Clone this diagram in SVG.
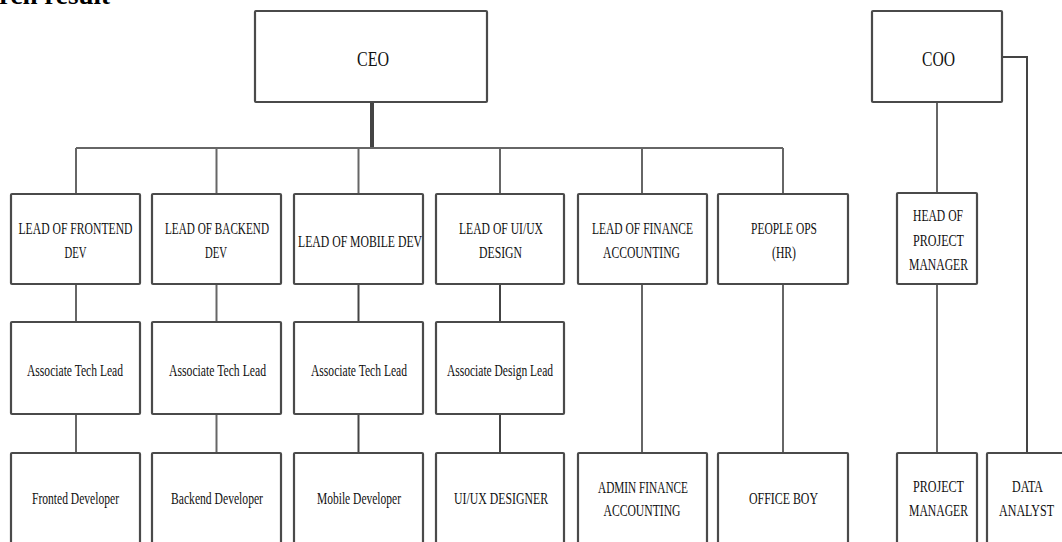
<svg xmlns="http://www.w3.org/2000/svg" width="1062" height="542" viewBox="0 0 1062 542">
<style>
.box{fill:#fff;stroke:#4a4a4a;stroke-width:2.2}
.t{font-family:"Liberation Serif","Times New Roman",serif;font-size:17px;fill:#111;text-anchor:middle}
.big{font-size:20px}
.ln{fill:none;stroke:#666;stroke-width:2}
.dk{fill:none;stroke:#444;stroke-width:2}
.hd{font-family:"Liberation Serif","Times New Roman",serif;font-weight:bold;font-size:26px;fill:#000}
</style>
<rect width="1062" height="542" fill="#fff"/>
<text class="hd" x="-1" y="3.5" textLength="111" lengthAdjust="spacingAndGlyphs">rch result</text>
<g id="connectors">
<line class="dk" x1="372" y1="102" x2="372" y2="148" style="stroke-width:4"/>
<line class="ln" x1="76" y1="148" x2="783" y2="148"/>
<line class="ln" x1="76" y1="148" x2="76" y2="194"/>
<line class="ln" x1="216.5" y1="148" x2="216.5" y2="194"/>
<line class="ln" x1="358.5" y1="148" x2="358.5" y2="194"/>
<line class="ln" x1="500" y1="148" x2="500" y2="194"/>
<line class="ln" x1="642" y1="148" x2="642" y2="194"/>
<line class="ln" x1="783" y1="148" x2="783" y2="194"/>
<line class="ln" x1="76" y1="284" x2="76" y2="322"/>
<line class="ln" x1="216.5" y1="284" x2="216.5" y2="322"/>
<line class="dk" x1="358.5" y1="284" x2="358.5" y2="322"/>
<line class="dk" x1="500" y1="284" x2="500" y2="322"/>
<line class="ln" x1="76" y1="414" x2="76" y2="453"/>
<line class="ln" x1="216.5" y1="414" x2="216.5" y2="453"/>
<line class="dk" x1="358.5" y1="414" x2="358.5" y2="453"/>
<line class="dk" x1="500" y1="414" x2="500" y2="453"/>
<line class="ln" x1="642" y1="284" x2="642" y2="453"/>
<line class="ln" x1="783" y1="284" x2="783" y2="453"/>
<line class="ln" x1="937" y1="102" x2="937" y2="193"/>
<line class="ln" x1="937" y1="284" x2="937" y2="453"/>
<polyline class="dk" points="1002,57 1027,57 1027,453"/>
</g>
<g id="ceo"><rect class="box" x="255" y="11" width="232" height="91" rx="1"/><text class="t big" x="373" y="66" textLength="32" lengthAdjust="spacingAndGlyphs">CEO</text></g>
<g id="coo"><rect class="box" x="872" y="11" width="130" height="91" rx="1"/><text class="t big" x="938.5" y="66" textLength="33" lengthAdjust="spacingAndGlyphs">COO</text></g>
<g id="lead-frontend"><rect class="box" x="11" y="194" width="129" height="90" rx="1"/><text class="t" x="75.5" y="234" textLength="114" lengthAdjust="spacingAndGlyphs">LEAD OF FRONTEND</text><text class="t" x="75.5" y="258" textLength="22" lengthAdjust="spacingAndGlyphs">DEV</text></g>
<g id="lead-backend"><rect class="box" x="152" y="194" width="129" height="90" rx="1"/><text class="t" x="217" y="234" textLength="104" lengthAdjust="spacingAndGlyphs">LEAD OF BACKEND</text><text class="t" x="216" y="258" textLength="22" lengthAdjust="spacingAndGlyphs">DEV</text></g>
<g id="lead-mobile"><rect class="box" x="294" y="194" width="129" height="90" rx="1"/><text class="t" x="360" y="247" textLength="124" lengthAdjust="spacingAndGlyphs">LEAD OF MOBILE DEV</text></g>
<g id="lead-uiux"><rect class="box" x="436" y="194" width="128" height="90" rx="1"/><text class="t" x="501" y="234" textLength="84" lengthAdjust="spacingAndGlyphs">LEAD OF UI/UX</text><text class="t" x="500.5" y="258" textLength="43" lengthAdjust="spacingAndGlyphs">DESIGN</text></g>
<g id="lead-finance"><rect class="box" x="578" y="194" width="129" height="90" rx="1"/><text class="t" x="642.5" y="234" textLength="101" lengthAdjust="spacingAndGlyphs">LEAD OF FINANCE</text><text class="t" x="641.5" y="258" textLength="77" lengthAdjust="spacingAndGlyphs">ACCOUNTING</text></g>
<g id="people-ops"><rect class="box" x="718" y="194" width="130" height="90" rx="1"/><text class="t" x="784" y="234" textLength="66" lengthAdjust="spacingAndGlyphs">PEOPLE OPS</text><text class="t" x="784" y="258" textLength="24" lengthAdjust="spacingAndGlyphs">(HR)</text></g>
<g id="head-pm"><rect class="box" x="897" y="193" width="80" height="91" rx="1"/><text class="t" x="938" y="221" textLength="50" lengthAdjust="spacingAndGlyphs">HEAD OF</text><text class="t" x="938.5" y="246" textLength="51" lengthAdjust="spacingAndGlyphs">PROJECT</text><text class="t" x="938.5" y="270" textLength="59" lengthAdjust="spacingAndGlyphs">MANAGER</text></g>
<g id="atl-frontend"><rect class="box" x="11" y="322" width="129" height="92" rx="1"/><text class="t" x="75" y="376" textLength="96" lengthAdjust="spacingAndGlyphs">Associate Tech Lead</text></g>
<g id="atl-backend"><rect class="box" x="152" y="322" width="129" height="92" rx="1"/><text class="t" x="217.5" y="376" textLength="97" lengthAdjust="spacingAndGlyphs">Associate Tech Lead</text></g>
<g id="atl-mobile"><rect class="box" x="294" y="322" width="129" height="92" rx="1"/><text class="t" x="359" y="376" textLength="96" lengthAdjust="spacingAndGlyphs">Associate Tech Lead</text></g>
<g id="adl-uiux"><rect class="box" x="436" y="322" width="128" height="92" rx="1"/><text class="t" x="500" y="376" textLength="106" lengthAdjust="spacingAndGlyphs">Associate Design Lead</text></g>
<g id="frontend-dev"><rect class="box" x="11" y="453" width="129" height="100" rx="1"/><text class="t" x="75.5" y="504" textLength="87" lengthAdjust="spacingAndGlyphs">Fronted Developer</text></g>
<g id="backend-dev"><rect class="box" x="152" y="453" width="129" height="100" rx="1"/><text class="t" x="217" y="504" textLength="92" lengthAdjust="spacingAndGlyphs">Backend Developer</text></g>
<g id="mobile-dev"><rect class="box" x="294" y="453" width="129" height="100" rx="1"/><text class="t" x="359" y="504" textLength="84" lengthAdjust="spacingAndGlyphs">Mobile Developer</text></g>
<g id="uiux-designer"><rect class="box" x="436" y="453" width="128" height="100" rx="1"/><text class="t" x="501" y="504" textLength="94" lengthAdjust="spacingAndGlyphs">UI/UX DESIGNER</text></g>
<g id="admin-finance"><rect class="box" x="578" y="453" width="129" height="100" rx="1"/><text class="t" x="643" y="493" textLength="90" lengthAdjust="spacingAndGlyphs">ADMIN FINANCE</text><text class="t" x="642" y="516" textLength="77" lengthAdjust="spacingAndGlyphs">ACCOUNTING</text></g>
<g id="office-boy"><rect class="box" x="718" y="453" width="130" height="100" rx="1"/><text class="t" x="783.5" y="504" textLength="69" lengthAdjust="spacingAndGlyphs">OFFICE BOY</text></g>
<g id="project-manager"><rect class="box" x="897" y="453" width="80" height="100" rx="1"/><text class="t" x="938.5" y="492" textLength="51" lengthAdjust="spacingAndGlyphs">PROJECT</text><text class="t" x="938.5" y="516" textLength="59" lengthAdjust="spacingAndGlyphs">MANAGER</text></g>
<g id="data-analyst"><rect class="box" x="987" y="453" width="80" height="100" rx="1"/><text class="t" x="1027.5" y="492" textLength="31" lengthAdjust="spacingAndGlyphs">DATA</text><text class="t" x="1026.5" y="516" textLength="55" lengthAdjust="spacingAndGlyphs">ANALYST</text></g>
</svg>
